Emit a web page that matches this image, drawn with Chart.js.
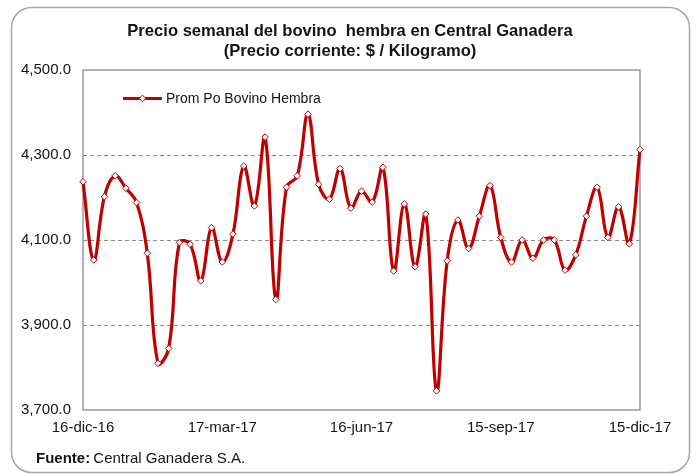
<!DOCTYPE html>
<html>
<head>
<meta charset="utf-8">
<script src="https://cdn.jsdelivr.net/npm/chart.js@4/dist/chart.umd.min.js"></script>
<style>
html,body{margin:0;padding:0;background:#fff;}
#wrap{width:696px;height:474px;}
</style>
</head>
<body>
<div id="wrap"><canvas id="c" width="696" height="474"></canvas></div>
<script>
const titleLines = ["Precio semanal del bovino  hembra en Central Ganadera", "(Precio corriente: $ / Kilogramo)"];
const seriesName = "Prom Po Bovino Hembra";
const sourceLabel = "Fuente:";
const sourceText = "Central Ganadera S.A.";

const weeks = [
  "16-dic-16","23-dic-16","30-dic-16","6-ene-17","13-ene-17","20-ene-17","27-ene-17",
  "3-feb-17","10-feb-17","17-feb-17","24-feb-17","3-mar-17","10-mar-17","17-mar-17",
  "24-mar-17","31-mar-17","7-abr-17","14-abr-17","21-abr-17","28-abr-17","5-may-17",
  "12-may-17","19-may-17","26-may-17","2-jun-17","9-jun-17","16-jun-17","23-jun-17",
  "30-jun-17","7-jul-17","14-jul-17","21-jul-17","28-jul-17","4-ago-17","11-ago-17",
  "18-ago-17","25-ago-17","1-sep-17","8-sep-17","15-sep-17","22-sep-17","29-sep-17",
  "6-oct-17","13-oct-17","20-oct-17","27-oct-17","3-nov-17","10-nov-17","17-nov-17",
  "24-nov-17","1-dic-17","8-dic-17","15-dic-17"
];
const shownTicks = ["16-dic-16","17-mar-17","16-jun-17","15-sep-17","15-dic-17"];

const prices = [
  4237,4053,4202,4251,4222,4188,4069,
  3810,3845,4094,4090,4004,4129,4048,
  4114,4274,4180,4342,3960,4224,4251,
  4396,4231,4196,4268,4175,4215,4189,
  4271,4027,4185,4037,4161,3745,4051,
  4147,4080,4156,4228,4106,4048,4100,
  4057,4100,4100,4029,4065,4156,4224,
  4106,4178,4091,4313
];

const yMin = 3700, yMax = 4500, yStep = 200;

const RED = '#C00000';
const TXT = '#141414';
const GRID = '#8c8c8c';

function fmt(v){
  return v.toLocaleString('en-US',{minimumFractionDigits:1,maximumFractionDigits:1});
}

const NARROW = "'Liberation Sans Narrow','Arial Narrow','Liberation Sans',sans-serif";

const decor = {
  id:'decor',
  beforeDraw(chart){
    const ctx = chart.ctx;
    ctx.save();
    ctx.fillStyle = '#fff';
    ctx.fillRect(0,0,chart.width,chart.height);
    const x0=11.5,y0=7.5,x1=689.5,y1=472.5,r=20;
    ctx.strokeStyle='#a6a6a6';
    ctx.lineWidth=1.5;
    ctx.beginPath();
    ctx.moveTo(x0+r,y0);
    ctx.lineTo(x1-r,y0);
    ctx.arcTo(x1,y0,x1,y0+r,r);
    ctx.lineTo(x1,y1-r);
    ctx.arcTo(x1,y1,x1-r,y1,r);
    ctx.lineTo(x0+r,y1);
    ctx.arcTo(x0,y1,x0,y1-r,r);
    ctx.lineTo(x0,y0+r);
    ctx.arcTo(x0,y0,x0+r,y0,r);
    ctx.closePath();
    ctx.stroke();
    ctx.fillStyle = TXT;
    ctx.textAlign='center';
    ctx.textBaseline='middle';
    ctx.font = "bold 16.6px " + NARROW;
    ctx.fillText(titleLines[0], 350, 31.5);
    ctx.fillText(titleLines[1], 350, 51);
    ctx.textAlign='left';
    ctx.font = "bold 15px " + NARROW;
    ctx.fillText(sourceLabel, 36, 459);
    const w = ctx.measureText(sourceLabel + ' ').width;
    ctx.font = "15px " + NARROW;
    ctx.fillText(sourceText, 36 + w - 1, 459);
    ctx.restore();
  },
  beforeDatasetsDraw(chart){
    const ctx = chart.ctx, a = chart.chartArea;
    ctx.save();
    ctx.strokeStyle = '#9a9a9a';
    ctx.lineWidth = 1.5;
    ctx.strokeRect(a.left, a.top, a.right-a.left, a.bottom-a.top);
    ctx.restore();
  },
  afterDraw(chart){
    const ctx = chart.ctx;
    ctx.save();
    const ly = 98.5;
    ctx.strokeStyle = RED;
    ctx.lineWidth = 3;
    ctx.beginPath();
    ctx.moveTo(123, ly); ctx.lineTo(162, ly);
    ctx.stroke();
    const mx = 142.5, s = 3.3;
    ctx.fillStyle = '#fff';
    ctx.lineWidth = 1;
    ctx.beginPath();
    ctx.moveTo(mx, ly - s); ctx.lineTo(mx + s, ly); ctx.lineTo(mx, ly + s); ctx.lineTo(mx - s, ly);
    ctx.closePath();
    ctx.fill(); ctx.stroke();
    ctx.fillStyle = TXT;
    ctx.font = "14px 'Liberation Sans',Arial,sans-serif";
    ctx.textAlign='left';
    ctx.textBaseline='middle';
    ctx.fillText(seriesName, 166, ly + 0.5);
    ctx.restore();
  }
};

new Chart(document.getElementById('c'), {
  type:'line',
  data:{
    labels: weeks,
    datasets:[{
      label: seriesName,
      data: prices,
      borderColor: RED,
      borderWidth: 3.2,
      tension: 0.4,
      pointStyle: 'rectRot',
      pointRadius: 3.3,
      pointBackgroundColor: '#fff',
      pointBorderColor: RED,
      pointBorderWidth: 1,
      fill:false
    }]
  },
  options:{
    responsive:false,
    animation:false,
    events:[],
    layout:{padding:{left:0,right:56,top:70,bottom:0}},
    plugins:{legend:{display:false},title:{display:false},tooltip:{enabled:false}},
    scales:{
      x:{
        offset:false,
        grid:{display:false,drawTicks:false},
        border:{display:false},
        ticks:{
          autoSkip:false,maxRotation:0,minRotation:0,padding:9,
          color:TXT,
          font:{family:"'Liberation Sans',Arial,sans-serif",size:15},
          callback(v,i){ const l = weeks[i]; return shownTicks.includes(l) ? l : ''; }
        },
        afterFit(s){ s.height = 64; }
      },
      y:{
        min:yMin,max:yMax,
        ticks:{
          stepSize:yStep,padding:12,color:TXT,
          font:{family:"'Liberation Sans',Arial,sans-serif",size:15},
          callback(v){ return fmt(v); }
        },
        grid:{
          drawTicks:false,
          lineWidth:1,
          color(ctx){ const v = ctx.tick && ctx.tick.value; return (v===yMin||v===yMax)?'rgba(0,0,0,0)':GRID; }
        },
        border:{display:false,dash:[4,3]},
        afterFit(s){ s.width = 83; }
      }
    }
  },
  plugins:[decor]
});
</script>
</body>
</html>
